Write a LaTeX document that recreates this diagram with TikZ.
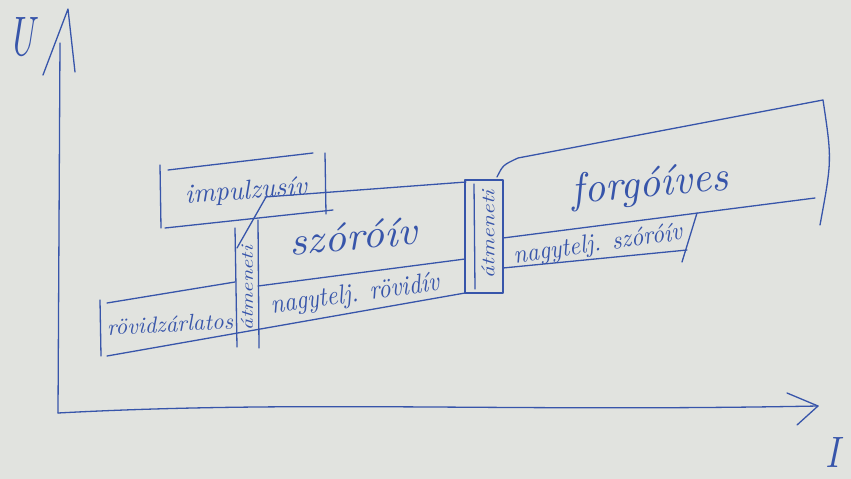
\documentclass[tikz,border=0pt]{standalone}
\usepackage{fontspec}
\usepackage{graphicx}
\usetikzlibrary{calc}
\definecolor{tinta}{RGB}{55,85,170}
\definecolor{papir}{RGB}{225,227,223}
% kezzel irt felirat: szelesseg, magassag, szoveg
\NewDocumentCommand{\kezirat}{m m m}{\resizebox{#1}{#2}{\itshape #3}}
\tikzset{
  vonal/.style={tinta, line width=1.3pt, line cap=round, line join=round},
  felirat/.style={tinta, inner sep=0pt},
}

\begin{document}
\begin{tikzpicture}[x=1pt,y=-1pt]
    \fill[papir] (0,0) rectangle (851,479);
    \useasboundingbox (0,0) rectangle (851,479);

    % tengelyek
    \coordinate (O) at (58,413);
    \coordinate (Ut) at (60,43);
    \coordinate (It) at (818,406);
    \draw[vonal] (O) -- (Ut);
    \draw[vonal] (43,75) -- (68,9) -- (75,72);
    \draw[vonal] (O) .. controls (300,400) and (500,412) .. (It);
    \draw[vonal] (787,393) -- (It) -- (797,425);
    \node[felirat] (U) at (22,37) {\kezirat{26pt}{38pt}{U}};
    \node[felirat] (I) at (832,452) {\kezirat{14pt}{30pt}{I}};

    % rovidzarlatos
    \draw[vonal] (100,300) -- (101,356);
    \draw[vonal] (107,303) -- (235,282);
    \draw[vonal] (107,356) -- (465,293);
    \node[felirat, rotate=3] (rovidzar) at (170,324) {\kezirat{126pt}{16pt}{rövidzárlatos}};

    % atmeneti 1
    \draw[vonal] (235,228) -- (237,347);
    \draw[vonal] (258,220) -- (259,348);
    \draw[vonal] (237,248) -- (266,197);
    \node[felirat, rotate=90] (atmenet1) at (247,288) {\kezirat{84pt}{12pt}{átmeneti}};

    % impulzusiv
    \draw[vonal] (160,165) -- (161,228);
    \draw[vonal] (168,170) -- (313,153);
    \draw[vonal] (165,228) -- (333,210);
    \draw[vonal] (325,153) -- (326,214);
    \node[felirat, rotate=4] (impulzus) at (246,192) {\kezirat{122pt}{19pt}{impulzusív}};

    % szoroiv es nagytelj. rovidiv
    \draw[vonal] (265,197) -- (466,182);
    \draw[vonal] (258,286) -- (465,259);
    \node[felirat, rotate=5] (szoro) at (353,236) {\kezirat{128pt}{28pt}{szóróív}};
    \node[felirat, rotate=8] (ntrovid) at (355,295) {\kezirat{170pt}{19pt}{nagytelj. rövidív}};

    % atmeneti 2
    \draw[vonal] (465,180) rectangle (503,293);
    \draw[vonal] (474,184) -- (475,289);
    \node[felirat, rotate=90] (atmenet2) at (488,234) {\kezirat{88pt}{13pt}{átmeneti}};

    % forgoives
    \draw[vonal] (497,177) .. controls (503,165) .. (518,158) -- (823,100)
        .. controls (832,160) .. (820,225);
    \draw[vonal] (503,238) -- (815,198);
    \node[felirat, rotate=5] (forgo) at (650,186) {\kezirat{157pt}{30pt}{forgóíves}};

    % nagytelj. szoroiv
    \draw[vonal] (503,268) -- (687,250);
    \draw[vonal] (697,213) -- (682,262);
    \node[felirat, rotate=8] (ntszoro) at (598,245) {\kezirat{170pt}{18pt}{nagytelj. szóróív}};
\end{tikzpicture}
\end{document}
